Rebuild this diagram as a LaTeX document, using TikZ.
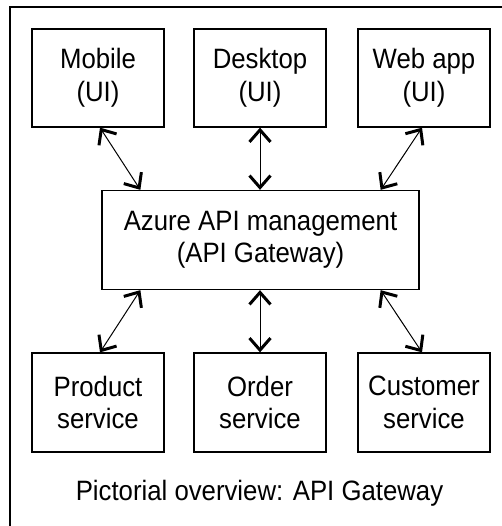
\documentclass[tikz,border=0pt]{standalone}
\usepackage{fontspec}
\setmainfont[FakeStretch=0.92]{Liberation Sans}
\usetikzlibrary{arrows.meta}
\begin{document}
\begin{tikzpicture}[x=1pt,y=-1pt,
  box/.style={draw, line width=1.3pt, align=center, inner sep=0pt,
    minimum width=132pt, minimum height=98pt,
    font=\fontsize{28}{32.5}\selectfont},
  barb/.tip={Straight Barb[length=12pt,width=21pt,line width=2pt 1]},
  dbl/.style={line width=1pt, barb-barb},
  captext/.style={font=\fontsize{28}{32.5}\selectfont, inner sep=0pt, anchor=base}
]
\useasboundingbox (0,0) rectangle (501,526);
\fill[white] (0,0) rectangle (501,526);
\draw[line width=2pt] (10,530) -- (10,7) -- (505,7);
\node[box] (mob) at (98,78) {Mobile\\(UI)};
\node[box] (desk) at (260,78) {Desktop\\(UI)};
\node[box] (web) at (424,78) {Web app\\(UI)};
\node[box, minimum width=317pt, minimum height=99pt] (api) at (260.5,240) {Azure API management\\(API Gateway)};
\node[box, minimum height=99pt] (prod) at (98,402.5) {Product\\service};
\node[box, minimum height=99pt] (ord) at (260,402.5) {Order\\service};
\node[box, minimum height=99pt] (cust) at (424,402.5) {Customer\\service};
\node[captext] (caption) at (259.5,500) {Pictorial overview: API Gateway};
\draw[dbl] ([xshift=2pt]mob.south) -- ([xshift=39pt]api.north west);
\draw[dbl] (desk.south) -- (desk.south |- api.north);
\draw[dbl] ([xshift=-2pt]web.south) -- ([xshift=-39pt]api.north east);
\draw[dbl] ([xshift=39pt]api.south west) -- ([xshift=2pt]prod.north);
\draw[dbl] (ord.north |- api.south) -- (ord.north);
\draw[dbl] ([xshift=-39pt]api.south east) -- ([xshift=-2pt]cust.north);
\end{tikzpicture}
\end{document}
